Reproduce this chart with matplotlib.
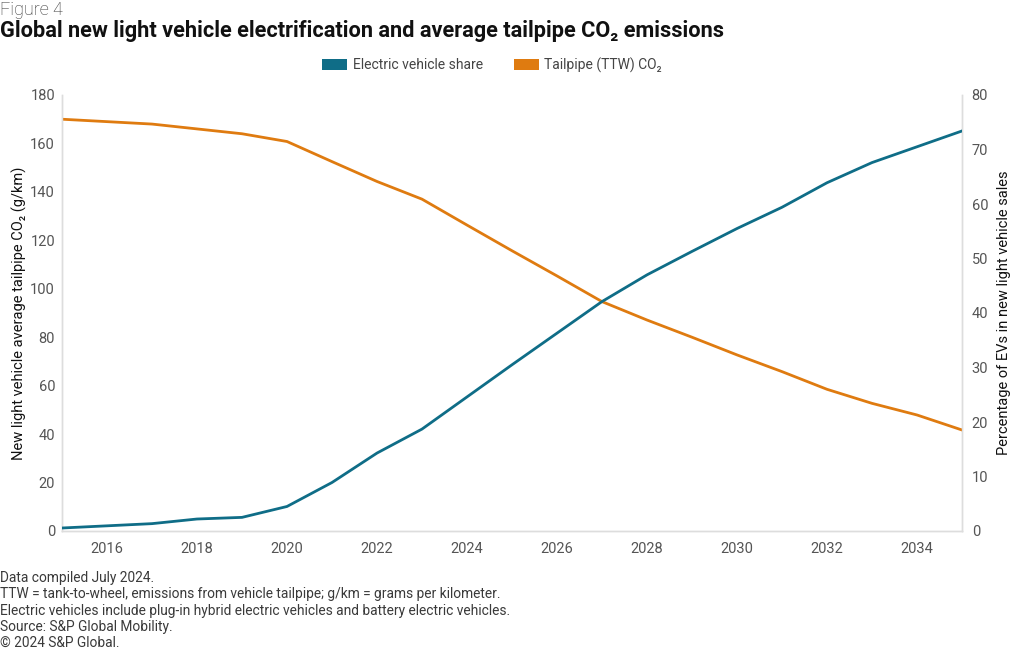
import matplotlib
matplotlib.use("Agg")
import matplotlib.pyplot as plt
from matplotlib.patches import Patch

plt.rcParams['font.family'] = ['Roboto', 'DejaVu Sans']

years = list(range(2015, 2036))
co2 = [170, 169, 168, 166, 164, 160.8, 152.5, 144.3, 137, 126.3, 115.7, 105.3,
       94.7, 87.1, 80, 72.7, 65.8, 58.5, 52.7, 47.9, 41.7]
ev_share = [0.55, 0.95, 1.35, 2.2, 2.5, 4.5, 8.9, 14.3, 18.7, 24.6, 30.5, 36.3,
            42.1, 47, 51.3, 55.5, 59.4, 63.9, 67.6, 70.5, 73.4]
xticks = list(range(2016, 2036, 2))
left_ticks = list(range(0, 181, 20))
right_ticks = list(range(0, 81, 10))

ev_color = '#0f6d87'
co2_color = '#df7b10'
tick_color = '#555555'
spine_color = '#dddddd'

fig = plt.figure(figsize=(10.2, 6.5), dpi=100)
ax = fig.add_axes([62/1020, 1-531/650, 900/1020, 436/650])
ax2 = ax.twinx()

ax.plot(years, co2, color=co2_color, lw=2.0, solid_joinstyle='round', zorder=3)
ax2.plot(years, ev_share, color=ev_color, lw=2.0, solid_joinstyle='round', zorder=3)

ax.set_xlim(2015, 2035)
ax.set_ylim(0, 180)
ax2.set_ylim(0, 80)
ax.set_xticks(xticks)
ax.set_yticks(left_ticks)
ax2.set_yticks(right_ticks)

for a in (ax, ax2):
    a.tick_params(axis='both', length=0, labelsize=10.5, labelcolor=tick_color)
    a.spines['top'].set_visible(False)
    for s in ['left', 'bottom', 'right']:
        a.spines[s].set_color(spine_color)
        a.spines[s].set_linewidth(1.0)
ax.tick_params(axis='y', pad=5)
ax2.tick_params(axis='y', pad=7)
ax.tick_params(axis='x', pad=8)

ax.set_ylabel('New light vehicle average tailpipe CO₂ (g/km)', fontsize=10.5, color='#111111')
ax.yaxis.set_label_coords((27-62)/900, 0.5)
ax2.set_ylabel('Percentage of EVs in new light vehicle sales', fontsize=10.5, color='#111111')
ax2.yaxis.set_label_coords((997-62)/900, 0.5)

fig.text(0.0, 1-10/650, 'Figure 4', fontsize=13, color='#333333', va='center', ha='left', fontweight='light')
fig.text(0.0, 1-31/650, 'Global new light vehicle electrification and average tailpipe CO₂ emissions',
         fontsize=15.7, fontweight='bold', color='#111111', va='center', ha='left')

handles = [Patch(facecolor=ev_color, edgecolor='none', label='Electric vehicle share'),
           Patch(facecolor=co2_color, edgecolor='none', label='Tailpipe (TTW) CO₂')]
leg = fig.legend(handles=handles, loc='center', bbox_to_anchor=(492/1020, 1-65/650), ncol=2,
                 frameon=False, fontsize=10, handlelength=1.8, handleheight=0.8,
                 columnspacing=2.2, handletextpad=0.4)
for t in leg.get_texts():
    t.set_color('#444444')

notes = ['Data compiled July 2024.',
         'TTW = tank-to-wheel, emissions from vehicle tailpipe; g/km = grams per kilometer.',
         'Electric vehicles include plug-in hybrid electric vehicles and battery electric vehicles.',
         'Source: S&P Global Mobility.',
         '© 2024 S&P Global.']
for i, n in enumerate(notes):
    fig.text(0.0, 1-(578+16.3*i)/650, n, fontsize=9.9, color='#3a3a3a', va='center', ha='left')

fig.savefig('out.png', dpi=100)
